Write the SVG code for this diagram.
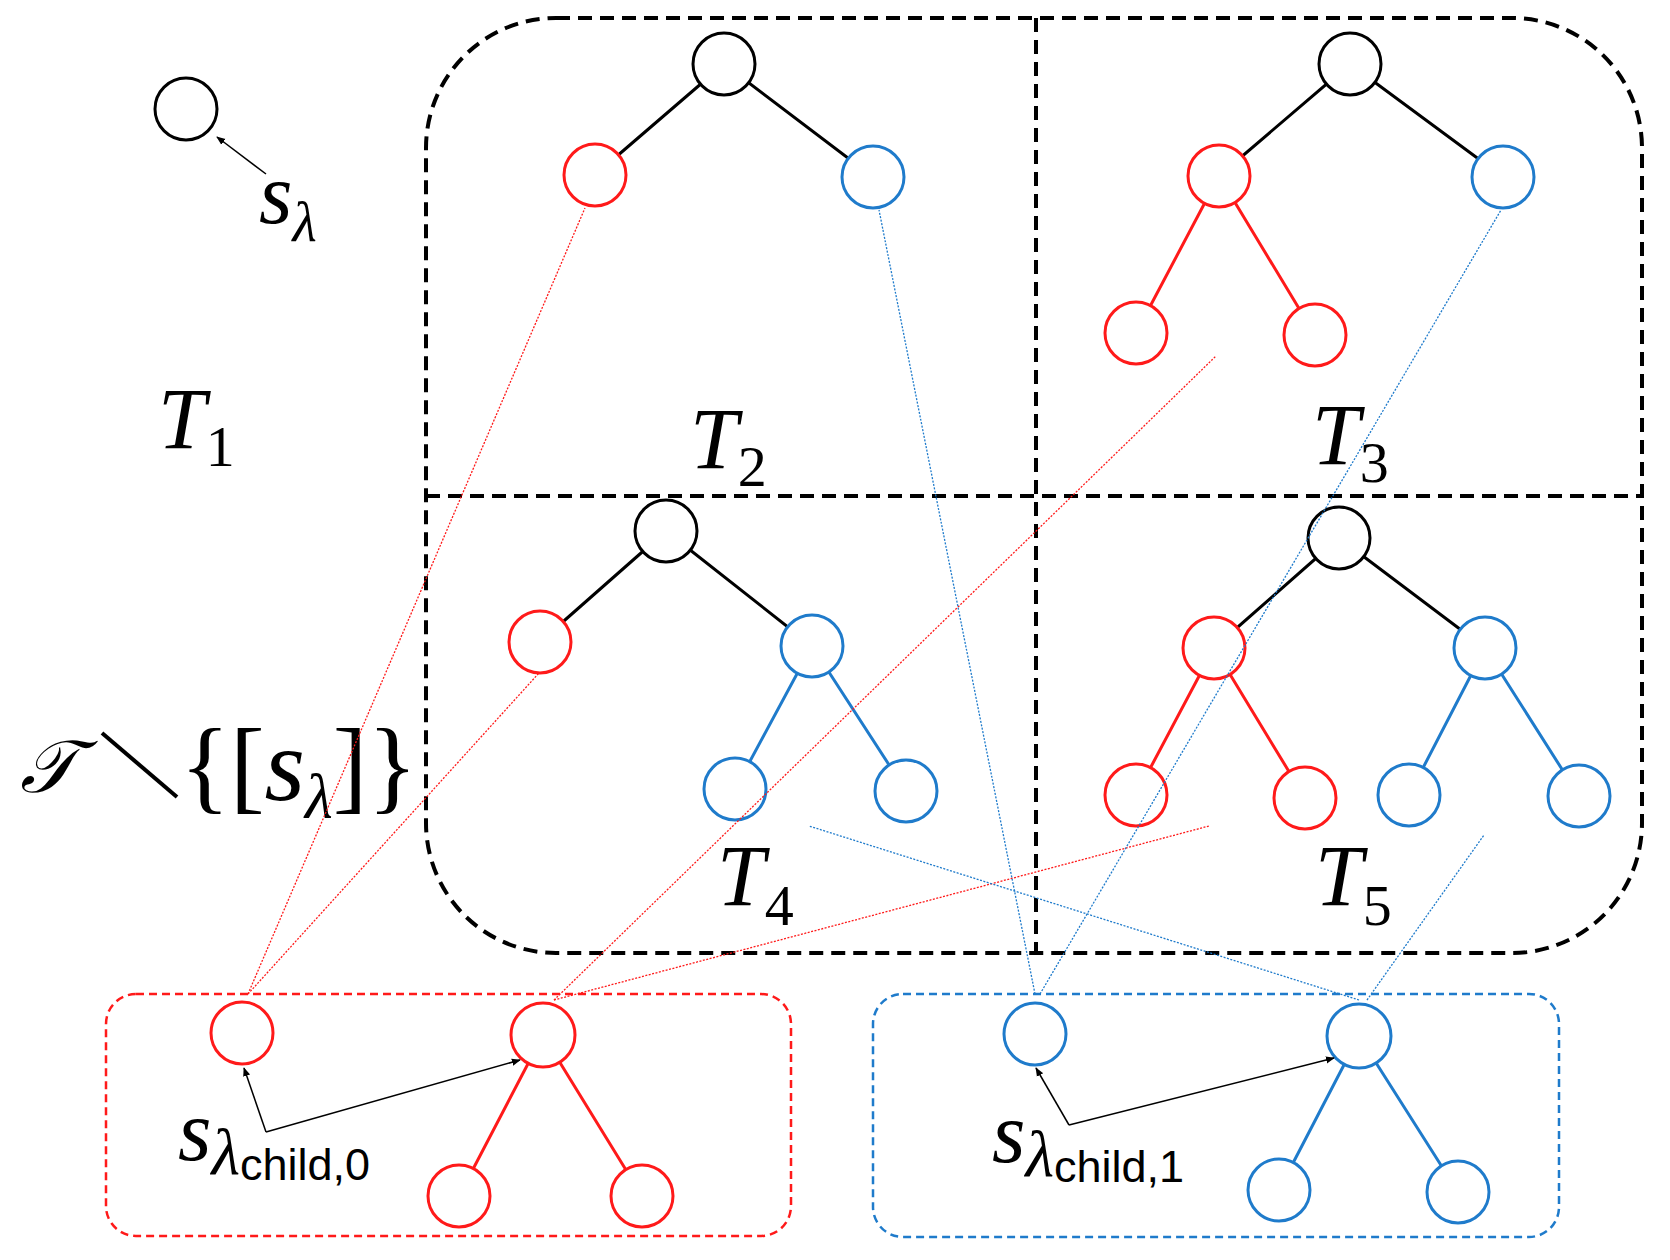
<svg xmlns="http://www.w3.org/2000/svg" width="1670" height="1260" viewBox="0 0 1670 1260">
<style>
.n{fill:#fff;stroke-width:3}
.k{stroke:#000}.r{stroke:#FF1A1A}.b{stroke:#1F7BCB}
.e{stroke-width:3;fill:none}
.c{stroke-width:1.3;stroke-dasharray:2 1.5;fill:none}
.m{font-family:"Liberation Serif",serif;font-style:italic;font-size:86px}
.sub{font-family:"Liberation Serif",serif;font-style:normal;font-size:58px}
.sans{font-family:"Liberation Sans",Arial,sans-serif;font-size:45px}
.ar{stroke:#000;stroke-width:1.5;fill:none;marker-end:url(#ah)}
</style>
<defs>
<marker id="ah" viewBox="0 0 10 10" refX="9" refY="5" markerWidth="9" markerHeight="9" orient="auto" markerUnits="userSpaceOnUse"><path d="M0,1 L10,5 L0,9 z" fill="#000"/></marker>
</defs>
<g id="frames" fill="none">
<rect x="426" y="18" width="1216" height="935" rx="130" stroke="#000" stroke-width="4" stroke-dasharray="14 8"/>
<line x1="426" y1="496" x2="1642" y2="496" stroke="#000" stroke-width="4" stroke-dasharray="14 8"/>
<line x1="1036" y1="18" x2="1036" y2="953" stroke="#000" stroke-width="4" stroke-dasharray="14 8"/>
<rect x="106" y="994" width="685" height="242" rx="30" stroke="#FF1A1A" stroke-width="2.5" stroke-dasharray="8 5"/>
<rect x="873" y="994" width="686" height="243" rx="30" stroke="#1F7BCB" stroke-width="2.5" stroke-dasharray="8 5"/>
</g>
<g id="T1">
<circle class="n k" cx="186" cy="109" r="31"/>
<line class="ar" x1="266" y1="174" x2="217" y2="137"/>
<text class="m" x="259" y="223">s<tspan font-size="56" dy="18">λ</tspan></text>
<text class="m" x="158" y="448">T<tspan class="sub" dy="18">1</tspan></text>
</g>
<g id="T2">
<path class="e k" d="M724,64 L595,175 M724,64 L873,177"/>
<circle class="n k" cx="724" cy="64" r="31"/><circle class="n r" cx="595" cy="175" r="31"/><circle class="n b" cx="873" cy="177" r="31"/>
<text class="m" x="690" y="468">T<tspan class="sub" dy="18">2</tspan></text>
</g>
<g id="T3">
<path class="e k" d="M1350,64 L1219,176 M1350,64 L1503,177"/>
<path class="e r" d="M1219,176 L1136,333 M1219,176 L1315,335"/>
<circle class="n k" cx="1350" cy="64" r="31"/><circle class="n r" cx="1219" cy="176" r="31"/><circle class="n b" cx="1503" cy="177" r="31"/>
<circle class="n r" cx="1136" cy="333" r="31"/><circle class="n r" cx="1315" cy="335" r="31"/>
<text class="m" x="1312" y="464">T<tspan class="sub" dy="18">3</tspan></text>
</g>
<g id="T4">
<path class="e k" d="M666,531 L540,642 M666,531 L812,646"/>
<path class="e b" d="M812,646 L735,789 M812,646 L906,791"/>
<circle class="n k" cx="666" cy="531" r="31"/><circle class="n r" cx="540" cy="642" r="31"/><circle class="n b" cx="812" cy="646" r="31"/>
<circle class="n b" cx="735" cy="789" r="31"/><circle class="n b" cx="906" cy="791" r="31"/>
<text class="m" x="717" y="905">T<tspan class="sub" dy="20">4</tspan></text>
</g>
<g id="T5">
<path class="e k" d="M1339,538 L1214,648 M1339,538 L1485,648"/>
<path class="e r" d="M1214,648 L1136,795 M1214,648 L1305,798"/>
<path class="e b" d="M1485,648 L1409,795 M1485,648 L1579,796"/>
<circle class="n k" cx="1339" cy="538" r="31"/><circle class="n r" cx="1214" cy="648" r="31"/><circle class="n b" cx="1485" cy="648" r="31"/>
<circle class="n r" cx="1136" cy="795" r="31"/><circle class="n r" cx="1305" cy="798" r="31"/>
<circle class="n b" cx="1409" cy="795" r="31"/><circle class="n b" cx="1579" cy="796" r="31"/>
<text class="m" x="1315" y="905">T<tspan class="sub" dy="20">5</tspan></text>
</g>
<g id="setlabel">
<text x="20" y="792" style="font-family:'DejaVu Serif','Liberation Serif',serif;font-size:74px"><tspan font-style="italic">𝒯</tspan></text>
<line x1="102" y1="733" x2="177" y2="797" stroke="#000" stroke-width="4"/>
<text x="180" y="800" style="font-family:'Liberation Serif',serif;font-size:104px">{[<tspan font-style="italic">s</tspan><tspan font-style="italic" font-size="64" dy="18">λ</tspan><tspan dy="-18">]}</tspan></text>
</g>
<g id="child0">
<path class="e r" d="M543,1035 L459,1196 M543,1035 L642,1196"/>
<circle class="n r" cx="242" cy="1033" r="31"/><circle class="n r" cx="543" cy="1035" r="32"/>
<circle class="n r" cx="459" cy="1196" r="31"/><circle class="n r" cx="642" cy="1196" r="31"/>
<line class="ar" x1="266" y1="1132" x2="244" y2="1068"/>
<line class="ar" x1="266" y1="1132" x2="520" y2="1060"/>
<text class="m" x="178" y="1160">s<tspan font-size="66" dy="14">λ</tspan><tspan class="sans" font-style="normal" dy="6">child,0</tspan></text>
</g>
<g id="child1">
<path class="e b" d="M1359,1036 L1279,1190 M1359,1036 L1458,1192"/>
<circle class="n b" cx="1035" cy="1034" r="31"/><circle class="n b" cx="1359" cy="1036" r="32"/>
<circle class="n b" cx="1279" cy="1190" r="31"/><circle class="n b" cx="1458" cy="1192" r="31"/>
<line class="ar" x1="1069" y1="1125" x2="1036" y2="1068"/>
<line class="ar" x1="1069" y1="1125" x2="1334" y2="1058"/>
<text class="m" x="992" y="1162">s<tspan font-size="66" dy="14">λ</tspan><tspan class="sans" font-style="normal" dy="6">child,1</tspan></text>
</g>
<g id="connectors">
<line class="c r" x1="248" y1="994" x2="585" y2="208"/>
<line class="c r" x1="248" y1="994" x2="539" y2="673"/>
<line class="c r" x1="554" y1="1000" x2="1216" y2="356"/>
<line class="c r" x1="554" y1="1000" x2="1209" y2="826"/>
<line class="c b" x1="1035" y1="994" x2="879" y2="210"/>
<line class="c b" x1="1040" y1="994" x2="1501" y2="210"/>
<line class="c b" x1="1367" y1="1000" x2="1484" y2="835"/>
<line class="c b" x1="1359" y1="1000" x2="809" y2="826"/>
</g>
</svg>
